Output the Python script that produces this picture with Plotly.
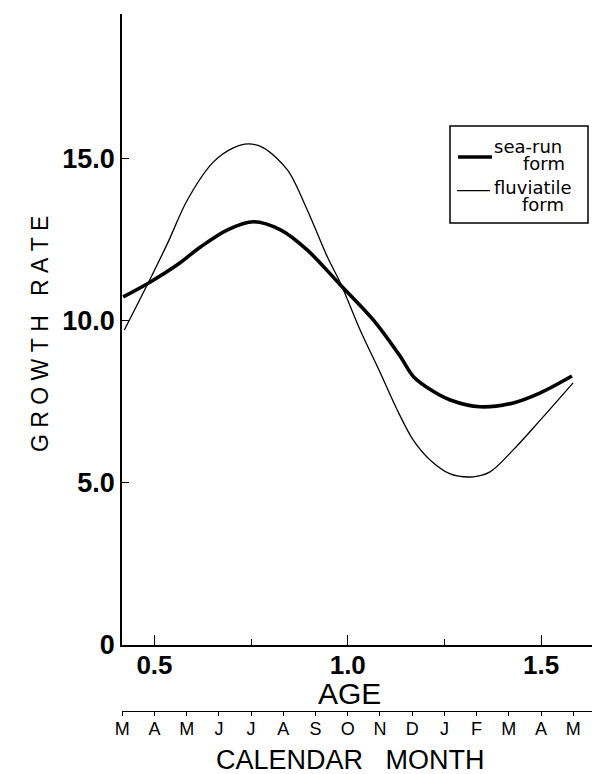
import plotly.graph_objects as go

# ---- data ----
sea_age = [0.419, 0.485, 0.559, 0.619, 0.689, 0.756, 0.826, 0.895, 0.981, 1.066,
           1.136, 1.170, 1.222, 1.265, 1.342, 1.428, 1.498, 1.580]
sea_rate = [10.74, 11.17, 11.73, 12.28, 12.81, 13.06, 12.81, 12.19, 11.11, 10.03,
            8.90, 8.28, 7.82, 7.56, 7.35, 7.47, 7.78, 8.30]

flu_age = [0.422, 0.485, 0.534, 0.585, 0.652, 0.704, 0.743, 0.782, 0.844, 0.895,
           0.947, 0.981, 1.032, 1.084, 1.128, 1.169, 1.213, 1.265, 1.324, 1.368,
           1.428, 1.498, 1.583]
flu_rate = [9.72, 11.2, 12.4, 13.73, 14.9, 15.34, 15.46, 15.34, 14.66, 13.43,
            11.98, 11.17, 9.72, 8.40, 7.25, 6.33, 5.71, 5.28, 5.19, 5.34,
            6.02, 6.94, 8.09]

series_names = [("sea-run", "form"), ("fluviatile", "form")]
series_widths = [3.6, 1.3]

age_ticks = [0.5, 1.0, 1.5]
age_tick_labels = ["0.5", "1.0", "1.5"]
age_minor_ticks = [0.75, 1.25]
rate_ticks = [0, 5, 10, 15]
rate_tick_labels = ["0", "5.0", "10.0", "15.0"]
month_ticks = [k / 12 for k in range(5, 20)]
month_labels = ["M", "A", "M", "J", "J", "A", "S", "O", "N", "D", "J", "F", "M", "A", "M"]

x_range = [0.4160, 1.6525]
y_range = [0, 19.47]

NB = "\u00a0"

fig = go.Figure()
for (n1, n2), ax, ry, w in zip(series_names, [sea_age, flu_age], [sea_rate, flu_rate], series_widths):
    fig.add_trace(go.Scatter(
        x=ax, y=ry, mode="lines", name=n1 + " " + n2, showlegend=False,
        line=dict(color="black", width=w, shape="spline", smoothing=0.9)))
# invisible trace to carry the month axis
fig.add_trace(go.Scatter(x=x_range, y=[None, None], xaxis="x2", showlegend=False, hoverinfo="skip"))

# ---- hand-placed legend box (paper coordinates) ----
shapes = [dict(type="rect", xref="paper", yref="paper", x0=0.6862, x1=0.9749, y0=0.7001, y1=0.8393,
               line=dict(color="black", width=1.5), fillcolor="white", layer="above")]
legend_rows = [
    # line y, line x0, line x1, text1 y, text2 y, text2 x
    (0.7948, 0.7029, 0.7741, 0.8092, 0.7862, 0.8351),
    (0.7465, 0.7008, 0.7699, 0.7504, 0.7260, 0.8330),
]
legend_ann = []
for (n1, n2), w, (ly, lx0, lx1, t1y, t2y, t2x) in zip(series_names, series_widths, legend_rows):
    shapes.append(dict(type="line", xref="paper", yref="paper", x0=lx0, x1=lx1, y0=ly, y1=ly,
                       line=dict(color="black", width=w), layer="above"))
    legend_ann.append(dict(text=n1, xref="paper", yref="paper", x=0.7745, y=t1y,
                           xanchor="left", yanchor="middle", showarrow=False,
                           font=dict(family="DejaVu Sans", size=18)))
    legend_ann.append(dict(text=n2, xref="paper", yref="paper", x=t2x, y=t2y,
                           xanchor="left", yanchor="middle", showarrow=False,
                           font=dict(family="DejaVu Sans", size=18)))

# the page places the figure 8px from the top-left corner, so the figure is
# sized to the visible 592x766 area
fig.update_layout(
    width=592, height=766,
    margin=dict(l=114, r=0, t=6, b=63),
    paper_bgcolor="white", plot_bgcolor="white",
    font=dict(family="Liberation Sans", color="black"),
    showlegend=False,
    xaxis=dict(
        range=x_range, showgrid=False, zeroline=False,
        showline=True, linecolor="black", linewidth=1.5,
        ticks="inside", ticklen=10, tickwidth=1.3, tickcolor="black",
        tickvals=age_ticks, ticktext=age_tick_labels,
        tickfont=dict(family="Liberation Sans", size=26, weight="bold"),
        minor=dict(tickvals=age_minor_ticks, ticks="inside", ticklen=6, tickwidth=1.2, tickcolor="black"),
        ticklabelstandoff=-4,
    ),
    xaxis2=dict(
        range=x_range, overlaying="x", anchor="free", position=0, side="bottom",
        showgrid=False, zeroline=False,
        showline=True, linecolor="black", linewidth=1.3,
        ticks="outside", ticklen=4, tickwidth=1.2, tickcolor="black",
        tickvals=month_ticks, ticktext=month_labels,
        tickfont=dict(family="Liberation Sans", size=18),
        ticklabelstandoff=-3,
    ),
    yaxis=dict(
        range=y_range, domain=[0.0947, 1], showgrid=False, zeroline=False,
        showline=True, linecolor="black", linewidth=1.5,
        ticks="inside", ticklen=7, tickwidth=1.3, tickcolor="black",
        tickvals=rate_ticks, ticktext=rate_tick_labels,
        tickfont=dict(family="Liberation Sans", size=27, weight="bold"),
    ),
    shapes=shapes,
    annotations=[
        dict(text="AGE", xref="paper", yref="paper", x=0.475, y=0.025,
             xanchor="center", yanchor="middle", showarrow=False,
             font=dict(family="Liberation Sans", size=30)),
        dict(text="CALENDAR" + NB * 3 + "MONTH", xref="paper", yref="paper", x=0.477, y=-0.0705,
             xanchor="center", yanchor="middle", showarrow=False,
             font=dict(family="Liberation Sans", size=27)),
        dict(text=NB.join("GROWTH") + NB * 3 + NB.join("RATE"), xref="paper", yref="paper",
             x=-0.1715, y=0.541, xanchor="center", yanchor="middle", showarrow=False,
             textangle=-90, font=dict(family="Liberation Sans", size=23)),
    ] + legend_ann,
)

fig.write_html("out.html")
